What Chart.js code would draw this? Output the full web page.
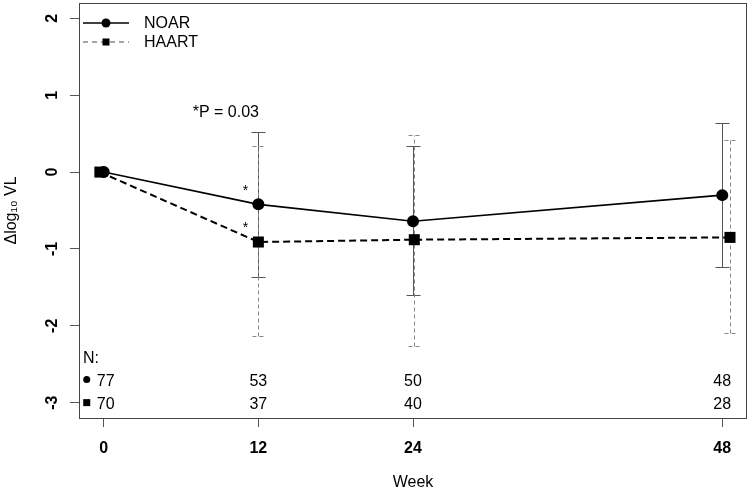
<!DOCTYPE html>
<html><head><meta charset="utf-8">
<script src="https://cdn.jsdelivr.net/npm/chart.js@4.4.1/dist/chart.umd.min.js"></script>
<style>html,body{margin:0;padding:0;background:#fff}#wrap{width:750px;height:494px;position:relative}</style>
</head><body><div id="wrap"><canvas id="c"></canvas></div>
<script>
// ---- data ----
const seriesNames = ['NOAR', 'HAART'];
const xTicks = [0, 12, 24, 48];
const yTicks = [-3, -2, -1, 0, 1, 2];
const noarWeeks = [0, 12, 24, 48];
const noarMean  = [0, -0.42, -0.64, -0.30];
const noarUpper = [0, 0.52, 0.34, 0.64];
const noarLower = [0, -1.37, -1.60, -1.24];
const haartWeeks = [-0.3, 12, 24.1, 48.6];
const haartMean  = [0, -0.91, -0.88, -0.85];
const haartUpper = [0, 0.34, 0.48, 0.42];
const haartLower = [0, -2.13, -2.26, -2.09];
const noarN  = [77, 53, 50, 48];
const haartN = [70, 37, 40, 28];
const starWeek = 12;
const pLabel = '*P = 0.03';
const nLabel = 'N:';
const xTitle = 'Week';
const yTitle = 'Δlog₁₀ VL';

const FONT = '"Liberation Sans", Arial, Helvetica, sans-serif';

function pts(xs, ys) { return xs.map((v, i) => ({x: v, y: ys[i]})); }

const overlay = {
  id: 'overlay',
  beforeDatasetsDraw(chart) {
    const {ctx, scales: {x, y}} = chart;
    const bars = (xs, lo, hi, color, dash, cap) => {
      ctx.save();
      ctx.strokeStyle = color; ctx.lineWidth = 1;
      for (let i = 0; i < xs.length; i++) {
        if (lo[i] === hi[i]) continue;
        const px = Math.round(x.getPixelForValue(xs[i])) + 0.5;
        const pl = Math.round(y.getPixelForValue(lo[i])) + 0.5;
        const ph = Math.round(y.getPixelForValue(hi[i])) + 0.5;
        ctx.setLineDash(dash);
        ctx.beginPath(); ctx.moveTo(px, pl); ctx.lineTo(px, ph); ctx.stroke();
        ctx.setLineDash([]);
        ctx.beginPath();
        ctx.moveTo(px - cap, pl); ctx.lineTo(px + cap, pl);
        ctx.moveTo(px - cap, ph); ctx.lineTo(px + cap, ph);
        if (dash.length) ctx.setLineDash([4, 3]);
        ctx.stroke();
      }
      ctx.restore();
    };
    bars(noarWeeks, noarLower, noarUpper, '#555', [], 7);
    bars(haartWeeks, haartLower, haartUpper, '#888', [4, 3], 6);
  },
  afterDraw(chart) {
    const {ctx, chartArea: ca, scales: {x, y}} = chart;
    ctx.save();
    // box
    ctx.strokeStyle = '#444'; ctx.lineWidth = 1;
    ctx.strokeRect(Math.round(ca.left) + 0.5, Math.round(ca.top) + 0.5,
                   Math.round(ca.right - ca.left) - 1, Math.round(ca.bottom - ca.top));
    // legend
    const lx0 = ca.left + 4, lx1 = ca.left + 50, lmx = (lx0 + lx1) / 2;
    const ly = [ca.top + 20, ca.top + 39];
    ctx.strokeStyle = '#000'; ctx.lineWidth = 1.5;
    ctx.beginPath(); ctx.moveTo(lx0, ly[0]); ctx.lineTo(lx1, ly[0]); ctx.stroke();
    ctx.fillStyle = '#000';
    ctx.beginPath(); ctx.arc(lmx, ly[0], 4.5, 0, Math.PI * 2); ctx.fill();
    ctx.strokeStyle = '#888'; ctx.setLineDash([5, 4]); ctx.lineWidth = 1.5;
    ctx.beginPath(); ctx.moveTo(lx0, ly[1]); ctx.lineTo(lx1, ly[1]); ctx.stroke();
    ctx.setLineDash([]);
    ctx.fillRect(lmx - 3.5, ly[1] - 3.5, 7, 7);
    ctx.font = '16px ' + FONT; ctx.textBaseline = 'middle'; ctx.textAlign = 'left';
    ctx.fillText(seriesNames[0], ca.left + 65, ly[0] + 1);
    ctx.fillText(seriesNames[1], ca.left + 65, ly[1] + 1);
    // stars
    const si = noarWeeks.indexOf(starWeek);
    ctx.font = '14px ' + FONT; ctx.textAlign = 'center'; ctx.textBaseline = 'alphabetic';
    const sx = x.getPixelForValue(starWeek) - 13;
    ctx.fillText('*', sx, y.getPixelForValue(noarMean[si]) - 9);
    ctx.fillText('*', sx, y.getPixelForValue(haartMean[si]) - 10);
    // P label
    ctx.font = '16px ' + FONT; ctx.textAlign = 'left';
    ctx.fillText(pLabel, x.getPixelForValue(6.9), y.getPixelForValue(0.79) + 6);
    // N table
    ctx.fillText(nLabel, ca.left + 4, y.getPixelForValue(-2.41) + 6);
    const r1 = y.getPixelForValue(-2.70), r2 = y.getPixelForValue(-3.0);
    const mx = x.getPixelForValue(-1.32);
    ctx.beginPath(); ctx.arc(mx, r1, 3.5, 0, Math.PI * 2); ctx.fill();
    ctx.fillRect(mx - 3.5, r2 - 3.5, 7, 7);
    ctx.textAlign = 'center';
    for (let i = 0; i < xTicks.length; i++) {
      const px = x.getPixelForValue(xTicks[i]);
      ctx.fillText(String(noarN[i]), px + (i === 0 ? 2 : 0), r1 + 6);
      ctx.fillText(String(haartN[i]), px + (i === 0 ? 2 : 0), r2 + 6);
    }
    ctx.restore();
  }
};

new Chart(document.getElementById('c'), {
  type: 'scatter',
  data: {
    datasets: [
      { label: seriesNames[0], data: pts(noarWeeks, noarMean), showLine: true,
        borderColor: '#000', borderWidth: 1.6, backgroundColor: '#000',
        pointStyle: 'circle', pointRadius: 6, pointBorderWidth: 0 },
      { label: seriesNames[1], data: pts(haartWeeks, haartMean), showLine: true,
        borderColor: '#000', borderWidth: 2, borderDash: [7, 4], backgroundColor: '#000',
        pointStyle: 'rect', pointRadius: 7.8, pointBorderWidth: 0 }
    ]
  },
  options: {
    responsive: true, maintainAspectRatio: false, animation: false,
    layout: { autoPadding: false, padding: { left: 0, right: 3, top: 3, bottom: 0 } },
    plugins: { legend: { display: false }, tooltip: { enabled: false } },
    scales: {
      x: {
        type: 'linear', min: -1.92, max: 49.92,
        afterBuildTicks: s => { s.ticks = xTicks.map(v => ({value: v})); },
        afterFit: s => { s.height = 76; s.paddingLeft = 0; s.paddingRight = 0; },
        grid: { display: true, drawOnChartArea: false, drawTicks: true, tickLength: 9, color: '#555' },
        border: { display: false },
        ticks: { autoSkip: false, maxRotation: 0, padding: 12, color: '#000',
                 font: { family: FONT, size: 16, weight: 'bold' } },
        title: { display: true, text: xTitle, color: '#000', padding: { top: 0, bottom: 2 },
                 font: { family: FONT, size: 16 } }
      },
      y: {
        type: 'linear', min: -3.2, max: 2.2,
        afterBuildTicks: s => { s.ticks = yTicks.map(v => ({value: v})); },
        afterFit: s => { s.width = 79; s.paddingTop = 0; s.paddingBottom = 0; },
        grid: { display: true, drawOnChartArea: false, drawTicks: true, tickLength: 9, color: '#555' },
        border: { display: false },
        ticks: { minRotation: 90, maxRotation: 90, crossAlign: 'center', padding: 10, color: '#000',
                 font: { family: FONT, size: 16, weight: 'bold' } },
        title: { display: true, text: yTitle, color: '#000', padding: { top: 2, bottom: 0 },
                 font: { family: FONT, size: 16 } }
      }
    }
  },
  plugins: [overlay]
});
</script></body></html>
